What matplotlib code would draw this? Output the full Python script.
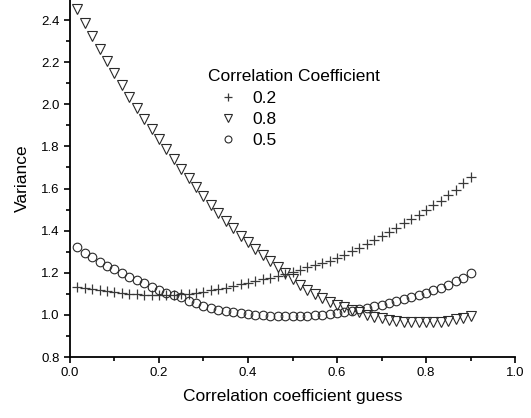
import numpy as np
import matplotlib
matplotlib.use("Agg")
import matplotlib.pyplot as plt
from matplotlib.ticker import MultipleLocator

plt.rcParams["font.family"] = ["Liberation Sans", "DejaVu Sans"]

# === DATA ===
guess = [0.0167, 0.0333, 0.05, 0.0667, 0.0833, 0.1, 0.1167, 0.1333, 0.15, 0.1667,
         0.1833, 0.2, 0.2167, 0.2333, 0.25, 0.2667, 0.2833, 0.3, 0.3167, 0.3333,
         0.35, 0.3667, 0.3833, 0.4, 0.4167, 0.4333, 0.45, 0.4667, 0.4833, 0.5,
         0.5167, 0.5333, 0.55, 0.5667, 0.5833, 0.6, 0.6167, 0.6333, 0.65, 0.6667,
         0.6833, 0.7, 0.7167, 0.7333, 0.75, 0.7667, 0.7833, 0.8, 0.8167, 0.8333,
         0.85, 0.8667, 0.8833, 0.9]

var_02 = [1.131, 1.126, 1.121, 1.116, 1.112, 1.108, 1.104, 1.101, 1.098, 1.096,
          1.095, 1.094, 1.094, 1.095, 1.097, 1.100, 1.104, 1.110, 1.116, 1.123,
          1.130, 1.137, 1.145, 1.153, 1.161, 1.169, 1.177, 1.186, 1.195, 1.205,
          1.215, 1.225, 1.235, 1.246, 1.258, 1.271, 1.286, 1.302, 1.319, 1.337,
          1.356, 1.375, 1.394, 1.414, 1.434, 1.455, 1.476, 1.498, 1.520, 1.543,
          1.567, 1.594, 1.624, 1.656]

var_08 = [2.452, 2.387, 2.325, 2.264, 2.205, 2.147, 2.090, 2.034, 1.980, 1.930,
          1.882, 1.834, 1.786, 1.740, 1.695, 1.651, 1.607, 1.565, 1.524, 1.485,
          1.447, 1.411, 1.376, 1.345, 1.315, 1.286, 1.256, 1.227, 1.198, 1.170,
          1.143, 1.119, 1.098, 1.079, 1.062, 1.048, 1.036, 1.024, 1.012, 1.001,
          0.991, 0.983, 0.977, 0.972, 0.968, 0.965, 0.965, 0.965, 0.965, 0.968,
          0.972, 0.979, 0.987, 0.996]

var_05 = [1.320, 1.295, 1.273, 1.253, 1.234, 1.216, 1.200, 1.181, 1.166, 1.150,
          1.134, 1.118, 1.106, 1.094, 1.083, 1.068, 1.055, 1.043, 1.033, 1.025,
          1.018, 1.012, 1.007, 1.003, 1.000, 0.998, 0.996, 0.995, 0.995, 0.995,
          0.995, 0.996, 0.998, 1.001, 1.005, 1.009, 1.014, 1.020, 1.026, 1.033,
          1.040, 1.048, 1.057, 1.066, 1.076, 1.086, 1.096, 1.106, 1.117, 1.129,
          1.143, 1.159, 1.177, 1.197]

labels = ["0.2", "0.8", "0.5"]

# === PLOT ===
fig = plt.figure(figsize=(5.31, 4.18), dpi=100)
ax = fig.add_axes([0.1318, 0.1459, 0.8381, 0.8541])

ax.plot(guess, var_02, ls="none", marker="+", ms=6.5, mew=0.9,
        color="#3a3a3a", label=labels[0])
ax.plot(guess, var_08, ls="none", marker="v", ms=6.8, mew=0.8,
        mfc="none", mec="#2a2a2a", label=labels[1])
ax.plot(guess, var_05, ls="none", marker="o", ms=6.2, mew=0.8,
        mfc="none", mec="#2a2a2a", label=labels[2])

ax.set_xlim(0, 1.0)
ax.set_ylim(0.8, 2.495)
ax.xaxis.set_major_locator(MultipleLocator(0.2))
ax.xaxis.set_minor_locator(MultipleLocator(0.1))
ax.yaxis.set_major_locator(MultipleLocator(0.2))
ax.yaxis.set_minor_locator(MultipleLocator(0.1))
ax.xaxis.set_major_formatter(matplotlib.ticker.FormatStrFormatter("%.1f"))
ax.yaxis.set_major_formatter(matplotlib.ticker.FormatStrFormatter("%.1f"))

for side in ["top", "right"]:
    ax.spines[side].set_visible(False)
for side in ["left", "bottom"]:
    ax.spines[side].set_linewidth(1.3)
ax.tick_params(which="major", direction="out", length=4.5, width=1.2,
               labelsize=9.5, pad=3)
ax.tick_params(which="minor", direction="out", length=2.8, width=1.2)

ax.set_xlabel("Correlation coefficient guess", fontsize=12.5, labelpad=7)
ax.set_ylabel("Variance", fontsize=12.5, labelpad=8)

leg = ax.legend(title="Correlation Coefficient", frameon=False, loc="upper left",
                bbox_to_anchor=(0.29, 0.83), fontsize=12.5, title_fontsize=12.5,
                alignment="left", handlelength=2.3, handletextpad=0.25,
                labelspacing=0.35, borderpad=0, markerscale=0.8, numpoints=1)

fig.savefig("out.png", dpi=100)
